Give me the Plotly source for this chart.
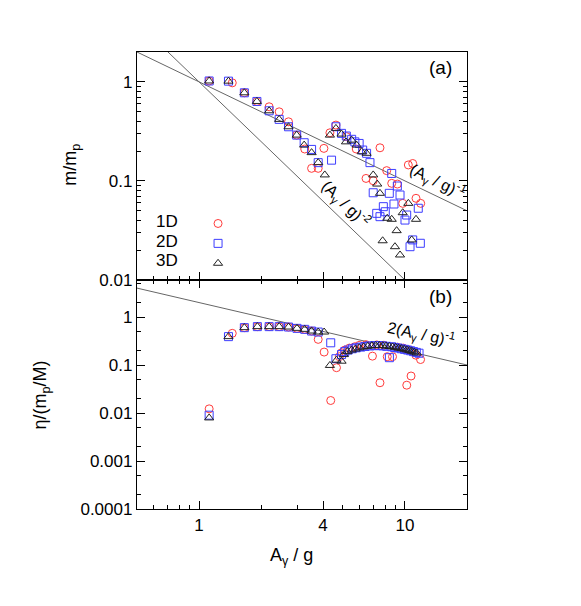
import numpy as np
import plotly.graph_objects as go

# panel (a): m/m_p against A_gamma/g
top_1d_x = [1.12, 1.45, 1.66, 1.91, 2.19, 2.45, 2.72, 2.98, 3.26, 3.52, 3.79, 4.04, 4.32, 4.62,
            5.2, 5.8, 7.56, 6.47, 7.01, 8.15, 8.62, 9.18, 9.75, 10.38, 10.9, 11.31, 11.92]
top_1d_y = [1.02, 0.977, 0.775, 0.634, 0.56, 0.498, 0.395, 0.29, 0.21, 0.134, 0.134, 0.213, 0.306, 0.366,
            0.28, 0.21, 0.216, 0.106, 0.1005, 0.127, 0.0946, 0.093, 0.0594, 0.145, 0.15, 0.0668, 0.0594]

top_2d_x = [1.12, 1.39, 1.66, 1.91, 2.19, 2.45, 2.72, 2.98, 3.24, 3.52, 3.79, 4.4, 4.62, 4.92,
            5.19, 5.51, 5.71, 5.99, 6.23, 6.51, 6.76, 8.62, 9.18, 7.01, 8.39, 9.46, 8.84, 11.6,
            7.85, 7.29, 8.02, 7.56, 10.19, 10.0, 10.9, 10.58, 11.87]
top_2d_y = [1.02, 1.016, 0.775, 0.634, 0.51, 0.418, 0.352, 0.29, 0.243, 0.208, 0.153, 0.162, 0.352, 0.302,
            0.284, 0.263, 0.248, 0.239, 0.205, 0.19, 0.153, 0.119, 0.0889, 0.076, 0.075, 0.0721, 0.0585, 0.053,
            0.055, 0.0471, 0.0489, 0.0436, 0.0453, 0.0403, 0.0254, 0.0217, 0.0235]

top_3d_x = [1.12, 1.39, 1.66, 1.91, 2.19, 2.45, 2.72, 2.98, 3.24, 3.52, 3.79, 4.08, 4.32, 4.62,
            4.92, 5.17, 5.51, 5.82, 6.16, 6.51, 7.01, 7.33, 7.56, 10.38, 9.75, 8.2, 8.62, 11.31,
            9.11, 7.79, 8.94, 10.78, 9.46]
top_3d_y = [1.02, 1.016, 0.775, 0.634, 0.51, 0.418, 0.352, 0.29, 0.23, 0.193, 0.153, 0.115, 0.29, 0.339,
            0.297, 0.248, 0.258, 0.23, 0.197, 0.19, 0.115, 0.093, 0.075, 0.0594, 0.0478, 0.042, 0.041, 0.041,
            0.0315, 0.0249, 0.0217, 0.0254, 0.0179]

# panel (b): eta/(m_p/M) against A_gamma/g
bot_1d_x = [1.12, 1.45, 1.66, 1.92, 2.19, 2.45, 2.72, 2.99, 3.26, 3.52, 3.79, 4.05, 4.36, 4.65,
            4.8, 4.92, 5.1, 5.37, 5.7, 5.99, 6.47, 6.95, 7.3, 7.56, 7.9, 8.2, 8.7, 9.2, 9.8,
            10.2, 10.5, 10.7, 11.3, 11.9]
bot_1d_y = [0.0122, 0.457, 0.6, 0.63, 0.63, 0.63, 0.618, 0.58, 0.553, 0.51, 0.342, 0.186, 0.0182, 0.0879,
            0.149, 0.18, 0.205, 0.225, 0.24, 0.256, 0.265, 0.153, 0.262, 0.0427, 0.258, 0.149, 0.149, 0.235, 0.225,
            0.038, 0.205, 0.059, 0.16, 0.13]

bot_2d_x = [1.12, 1.39, 1.66, 1.92, 2.19, 2.45, 2.72, 2.99, 3.26, 3.52, 3.79, 4.36, 4.62, 4.92,
            5.1, 5.3, 5.55, 5.8, 6.1, 6.4, 6.75, 7.1, 7.45, 7.8, 8.15, 8.4, 8.62, 8.9, 9.25,
            9.6, 9.95, 10.3, 10.65, 11.0, 11.35, 11.7]
bot_2d_y = [0.009, 0.39, 0.6, 0.63, 0.63, 0.63, 0.618, 0.58, 0.553, 0.51, 0.486, 0.29, 0.135, 0.165,
            0.19, 0.205, 0.218, 0.228, 0.236, 0.243, 0.25, 0.253, 0.254, 0.25, 0.245, 0.142, 0.24, 0.232, 0.226,
            0.218, 0.212, 0.205, 0.198, 0.19, 0.183, 0.176]

bot_3d_x = [1.12, 1.39, 1.66, 1.92, 2.19, 2.45, 2.72, 2.99, 3.26, 3.52, 3.79, 4.05, 4.32, 4.65,
            4.92, 5.05, 5.25, 5.5, 5.75, 6.0, 6.3, 6.6, 6.9, 7.2, 7.5, 7.8, 8.1, 8.4, 8.7,
            9.0, 9.3, 9.6, 9.9, 10.2, 10.5, 10.8, 11.1, 11.4]
bot_3d_y = [0.0079, 0.39, 0.6, 0.63, 0.63, 0.63, 0.618, 0.58, 0.553, 0.51, 0.486, 0.486, 0.098, 0.126,
            0.12, 0.165, 0.19, 0.205, 0.215, 0.228, 0.238, 0.245, 0.252, 0.255, 0.256, 0.252, 0.248, 0.243, 0.238,
            0.233, 0.226, 0.22, 0.213, 0.207, 0.2, 0.193, 0.186, 0.178]

# reference power laws
line_x = [0.5, 20]
x_tick_major = [1, 4, 10]
x_tick_minor = [0.6, 0.7, 0.8, 0.9, 2, 3, 5, 6, 7, 8, 9, 20]
top_y_major = [0.01, 0.1, 1]
top_y_minor = [d * m for d in (0.01, 0.1, 1) for m in range(2, 10)]
bot_y_major = [0.0001, 0.001, 0.01, 0.1, 1]
bot_y_minor = [d * m for d in (0.0001, 0.001, 0.01, 0.1, 1) for m in (2, 5)]

RED = "#ff3b3b"
BLUE = "#3d3dff"
BLACK = "#222222"
LINE = "#666666"
FONT = "Liberation Sans, Arial, sans-serif"

series = [
    ("1D", "circle-open", RED, 8, top_1d_x, top_1d_y, bot_1d_x, bot_1d_y),
    ("2D", "square-open", BLUE, 8, top_2d_x, top_2d_y, bot_2d_x, bot_2d_y),
    ("3D", "triangle-up-open", BLACK, 8, top_3d_x, top_3d_y, bot_3d_x, bot_3d_y),
]

fig = go.Figure()

lx = np.array(line_x, dtype=float)
fig.add_trace(go.Scatter(x=lx, y=lx ** -1, mode="lines", line=dict(color=LINE, width=1),
                         showlegend=False, xaxis="x", yaxis="y"))
fig.add_trace(go.Scatter(x=lx, y=lx ** -2, mode="lines", line=dict(color=LINE, width=1),
                         showlegend=False, xaxis="x", yaxis="y"))
fig.add_trace(go.Scatter(x=lx, y=2 * lx ** -1, mode="lines", line=dict(color=LINE, width=1),
                         showlegend=False, xaxis="x2", yaxis="y2"))

for name, symbol, color, size, tx, ty, bx, by in series:
    marker = dict(symbol=symbol, size=size, color=color, line=dict(color=color, width=1))
    fig.add_trace(go.Scatter(x=tx, y=ty, mode="markers", marker=marker, name=" ",
                             legendgroup=name, showlegend=True, xaxis="x", yaxis="y"))
    fig.add_trace(go.Scatter(x=bx, y=by, mode="markers", marker=marker, name=name,
                             legendgroup=name, showlegend=False, xaxis="x2", yaxis="y2"))

tick_font = dict(family=FONT, size=17, color="black")
common = dict(type="log", showline=True, linecolor="black", linewidth=1.3, ticks="inside",
              ticklen=8, tickcolor="black", showgrid=False, zeroline=False, tickfont=tick_font)

# the page body has an 8px margin, so the figure is 8px smaller and the margins shifted
fig.update_layout(
    width=573, height=598,
    margin=dict(l=129, r=114, t=44, b=97),
    paper_bgcolor="white", plot_bgcolor="white",
    font=dict(family=FONT, size=17, color="black"),
    xaxis=dict(common, domain=[0, 1], anchor="y", range=[np.log10(0.5), np.log10(20)],
               tickmode="array", tickvals=x_tick_major, showticklabels=False, mirror=True,
               minor=dict(tickmode="array", tickvals=x_tick_minor, ticks="inside", ticklen=4,
                          tickcolor="black")),
    yaxis=dict(common, domain=[0.501, 1], anchor="x", range=[-2, np.log10(2)],
               tickmode="array", tickvals=top_y_major, ticktext=["0.01", "0.1", "1"], mirror="ticks",
               minor=dict(tickmode="array", tickvals=top_y_minor, ticks="inside", ticklen=4,
                          tickcolor="black")),
    xaxis2=dict(common, domain=[0, 1], anchor="y2", range=[np.log10(0.5), np.log10(20)],
                tickmode="array", tickvals=x_tick_major, ticktext=["1", "4", "10"], mirror="ticks",
                minor=dict(tickmode="array", tickvals=x_tick_minor, ticks="inside", ticklen=4,
                           tickcolor="black")),
    yaxis2=dict(common, domain=[0, 0.501], anchor="x2", range=[-4, 0.77],
                tickmode="array", tickvals=bot_y_major,
                ticktext=["0.0001", "0.001", "0.01", "0.1", "1"], mirror="ticks",
                minor=dict(tickmode="array", tickvals=bot_y_minor, ticks="inside", ticklen=4,
                           tickcolor="black")),
    legend=dict(x=0.185, y=0.6575, xanchor="left", yanchor="top", bgcolor="rgba(0,0,0,0)",
                font=dict(family=FONT, size=13), itemwidth=30, tracegroupgap=0),
    showlegend=True,
)

annotations = [
    dict(text="m/m<sub>p</sub>", x=-0.197, y=0.753, textangle=-90, font=dict(size=18)),
    dict(text="η/(m<sub>p</sub>/M)", x=-0.29, y=0.249, textangle=-90, font=dict(size=18)),
    dict(text="A<sub>γ</sub> / g", x=0.467, y=-0.105, font=dict(size=18)),
    dict(text="(a)", x=0.921, y=0.965, font=dict(size=19)),
    dict(text="(b)", x=0.921, y=0.466, font=dict(size=19)),
    dict(text="(A<sub>γ</sub> / g)<sup>-1</sup>", x=0.91, y=0.718, textangle=26, font=dict(size=16)),
    dict(text="(A<sub>γ</sub> / g)<sup>-2</sup>", x=0.633, y=0.667, textangle=44, font=dict(size=16)),
    dict(text="2(A<sub>γ</sub> / g)<sup>-1</sup>", x=0.861, y=0.383, textangle=12, font=dict(size=16)),
    dict(text="1D", x=0.13, y=0.630, xanchor="right", font=dict(size=17)),
    dict(text="2D", x=0.13, y=0.586, xanchor="right", font=dict(size=17)),
    dict(text="3D", x=0.13, y=0.543, xanchor="right", font=dict(size=17)),
]
for a in annotations:
    a.setdefault("xanchor", "center")
    fig.add_annotation(xref="paper", yref="paper", showarrow=False, yanchor="middle", **a)

fig.write_html("out.html")
